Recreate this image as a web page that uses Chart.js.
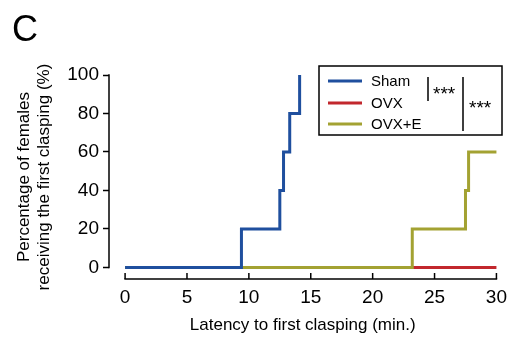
<!DOCTYPE html>
<html>
<head>
<meta charset="utf-8">
<script src="https://cdn.jsdelivr.net/npm/chart.js@4"></script>
<style>
html,body{margin:0;padding:0;background:#fff;}
#wrap{position:relative;width:514px;height:340px;}
</style>
</head>
<body>
<div id="wrap"><canvas id="c" width="514" height="340"></canvas></div>
<script>
// ---- data ----
const seriesNames = ['Sham', 'OVX', 'OVX+E'];
const shamX = [0, 9.4, 12.5, 12.8, 13.3, 14.1];
const shamY = [0, 20, 40, 60, 80, 100];
const ovxX = [0, 30];
const ovxY = [0, 0];
const ovxeX = [0, 23.2, 27.5, 27.75, 30];
const ovxeY = [0, 20, 40, 60, 60];
const xTicks = [0, 5, 10, 15, 20, 25, 30];
const yTicks = [0, 20, 40, 60, 80, 100];
const panelLabel = 'C';
const xTitle = 'Latency to first clasping (min.)';
const yTitle = ['Percentage of females', 'receiving the first clasping (%)'];
const sigMarks = ['***', '***'];

const colors = ['#1f4f9e', '#c2272d', '#a3a232'];
const FONT = "'Liberation Sans', Arial, sans-serif";

function pts(xs, ys) { return xs.map((x, i) => ({x: x, y: ys[i]})); }

const axesPlugin = {
  id: 'axesPlugin',
  afterDraw(chart) {
    const ctx = chart.ctx;
    const xs = chart.scales.x, ys = chart.scales.y;
    const ca = chart.chartArea;
    ctx.save();
    ctx.strokeStyle = '#000';
    ctx.lineWidth = 1.5;
    // y axis line (offset spine, 0..100)
    ctx.beginPath();
    ctx.moveTo(ca.left, ys.getPixelForValue(yTicks[0]) + 0.75);
    ctx.lineTo(ca.left, ys.getPixelForValue(yTicks[yTicks.length - 1]) - 0.75);
    ctx.stroke();
    // x axis line (0..30)
    const xb = ca.bottom;
    ctx.beginPath();
    ctx.moveTo(xs.getPixelForValue(xTicks[0]) - 0.75, xb);
    ctx.lineTo(xs.getPixelForValue(xTicks[xTicks.length - 1]) + 0.75, xb);
    ctx.stroke();
    // x ticks pointing up
    xTicks.forEach(v => {
      const px = xs.getPixelForValue(v);
      ctx.beginPath();
      ctx.moveTo(px, xb);
      ctx.lineTo(px, xb - 6);
      ctx.stroke();
    });
    // panel label
    ctx.fillStyle = '#000';
    ctx.font = '36px ' + FONT;
    ctx.textAlign = 'left';
    ctx.textBaseline = 'alphabetic';
    ctx.fillText(panelLabel, 12, 41);

    // legend box
    const bx = 319, by = 66, bw = 183, bh = 69;
    ctx.lineWidth = 1.5;
    ctx.strokeRect(bx, by, bw, bh);
    const rowsY = [81, 103, 124];
    ctx.font = '15px ' + FONT;
    ctx.textBaseline = 'middle';
    chart.data.datasets.forEach((ds, i) => {
      ctx.strokeStyle = ds.borderColor;
      ctx.lineWidth = 3;
      ctx.beginPath();
      ctx.moveTo(328, rowsY[i]);
      ctx.lineTo(362, rowsY[i]);
      ctx.stroke();
      ctx.fillStyle = '#000';
      ctx.fillText(ds.label, 371, rowsY[i] + 1);
    });
    // significance brackets
    ctx.strokeStyle = '#000';
    ctx.lineWidth = 1.5;
    ctx.beginPath();
    ctx.moveTo(428, 77); ctx.lineTo(428, 101);
    ctx.moveTo(463, 77); ctx.lineTo(463, 131);
    ctx.stroke();
    ctx.font = '19px ' + FONT;
    ctx.textBaseline = 'alphabetic';
    ctx.fillText(sigMarks[0], 433, 99.5);
    ctx.fillText(sigMarks[1], 469, 113.5);
    ctx.restore();
  }
};

new Chart(document.getElementById('c'), {
  type: 'line',
  data: {
    datasets: [
      {label: seriesNames[0], data: pts(shamX, shamY), borderColor: colors[0], order: 0},
      {label: seriesNames[1], data: pts(ovxX, ovxY), borderColor: colors[1], order: 2},
      {label: seriesNames[2], data: pts(ovxeX, ovxeY), borderColor: colors[2], order: 1}
    ].map(d => Object.assign(d, {stepped: 'before', borderWidth: 3, pointRadius: 0, tension: 0, clip: false, fill: false, borderJoinStyle: 'miter'}))
  },
  options: {
    responsive: false,
    animation: false,
    events: [],
    layout: {padding: {left: 0, right: 16, top: 75, bottom: 0}},
    plugins: {legend: {display: false}, tooltip: {enabled: false}, title: {display: false}},
    scales: {
      x: {
        type: 'linear',
        min: -1.3, max: 30,
        afterBuildTicks: s => { s.ticks = xTicks.map(v => ({value: v})); },
        afterFit: s => { s.height = 61; },
        grid: {display: false, drawTicks: false},
        border: {display: false},
        ticks: {color: '#000', font: {size: 19, family: FONT}, padding: 7, maxRotation: 0},
        title: {display: true, text: xTitle, color: '#000', font: {size: 17, family: FONT}, padding: {top: 0, bottom: 4}}
      },
      y: {
        type: 'linear',
        min: -6, max: 100,
        afterBuildTicks: s => { s.ticks = yTicks.map(v => ({value: v})); },
        afterFit: s => { s.width = 109; },
        grid: {display: true, drawOnChartArea: false, drawTicks: true, tickLength: 6, tickWidth: 1.5, tickColor: '#000', color: '#000'},
        border: {display: false},
        ticks: {color: '#000', font: {size: 19, family: FONT}, padding: 4},
        title: {display: true, text: yTitle, color: '#000', font: {size: 17, family: FONT}, padding: {top: 14, bottom: 0}}
      }
    }
  },
  plugins: [axesPlugin]
});
</script>
</body>
</html>
